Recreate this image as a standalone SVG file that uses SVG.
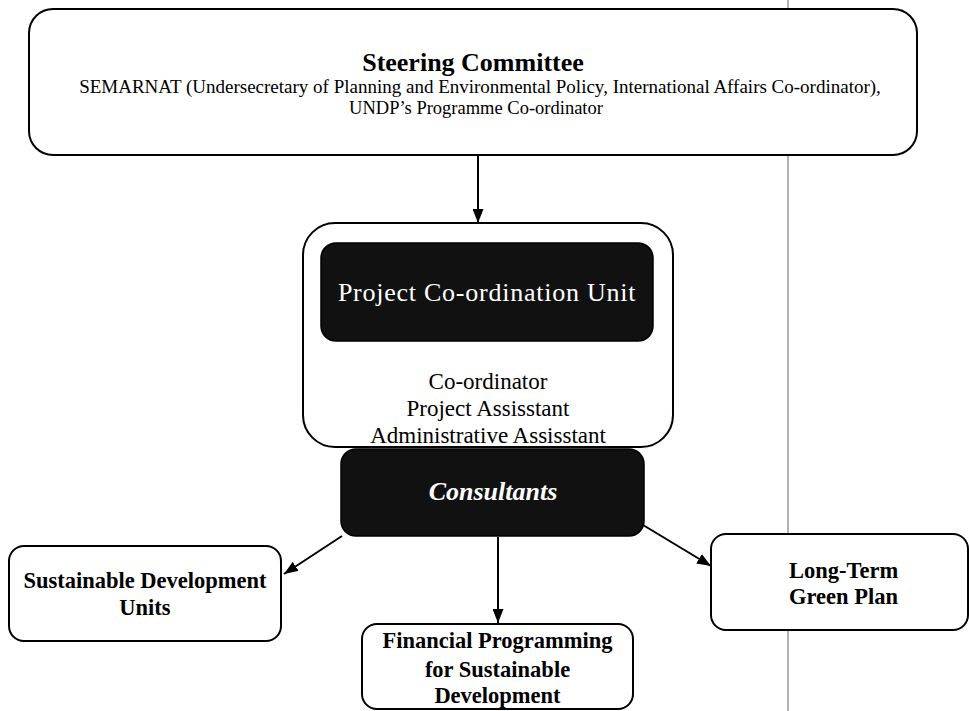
<svg xmlns="http://www.w3.org/2000/svg" width="969" height="711" viewBox="0 0 969 711">
<style>
.box{fill:#fff;stroke:#000;stroke-width:2}
.dark{fill:#111;stroke:#000;stroke-width:1.5}
.serif{font-family:"Liberation Serif","Times New Roman",serif}
.b{font-weight:bold}
.conn{stroke:#000;stroke-width:2;fill:none;marker-end:url(#ah)}
</style>
<defs>
<marker id="ah" viewBox="0 0 14 11" refX="14" refY="5.5" markerWidth="14" markerHeight="11" markerUnits="userSpaceOnUse" orient="auto">
<path d="M0,0 L14,5.5 L0,11 z" fill="#000"/>
</marker>
</defs>
<rect width="969" height="711" fill="#fff"/>
<line x1="788" y1="0" x2="788" y2="711" stroke="#666" stroke-width="1"/>
<g id="steering">
<rect class="box" x="29" y="9" width="888" height="146" rx="24"/>
<text class="serif b" x="473" y="71" font-size="26" text-anchor="middle">Steering Committee</text>
<text class="serif" x="480" y="93" font-size="19" text-anchor="middle">SEMARNAT (Undersecretary of Planning and Environmental Policy, International Affairs Co-ordinator),</text>
<text class="serif" x="476" y="114" font-size="18.5" text-anchor="middle">UNDP’s Programme Co-ordinator</text>
</g>
<g id="pcu">
<rect class="box" x="303" y="223" width="370" height="224" rx="32"/>
<rect class="dark" x="321" y="243" width="332" height="98" rx="15"/>
<text class="serif" x="487" y="301" font-size="26" letter-spacing="0.75" text-anchor="middle" fill="#fff">Project Co-ordination Unit</text>
<text class="serif" x="488" y="389" font-size="23" text-anchor="middle">Co-ordinator</text>
<text class="serif" x="488" y="416" font-size="23" text-anchor="middle">Project Assisstant</text>
<text class="serif" x="488" y="443" font-size="23" text-anchor="middle">Administrative Assisstant</text>
</g>
<g id="consultants">
<rect class="dark" x="341" y="449" width="303" height="87" rx="15"/>
<text class="serif b" x="493" y="500" font-size="26" font-style="italic" text-anchor="middle" fill="#fff">Consultants</text>
</g>
<g id="sdu">
<rect class="box" x="9" y="546" width="272" height="95" rx="15"/>
<text class="serif b" x="145" y="588" font-size="22.5" text-anchor="middle">Sustainable Development</text>
<text class="serif b" x="145" y="615" font-size="22.5" text-anchor="middle">Units</text>
</g>
<g id="fpsd">
<rect class="box" x="362" y="624" width="271" height="85" rx="15"/>
<text class="serif b" x="497.5" y="648" font-size="22.5" text-anchor="middle">Financial Programming</text>
<text class="serif b" x="497.5" y="677" font-size="22.5" text-anchor="middle">for Sustainable</text>
<text class="serif b" x="497.5" y="703" font-size="22.5" text-anchor="middle">Development</text>
</g>
<g id="ltgp">
<rect class="box" x="711" y="534" width="257" height="96" rx="15"/>
<text class="serif b" x="789" y="578" font-size="22.5">Long-Term</text>
<text class="serif b" x="789" y="604" font-size="22.5">Green Plan</text>
</g>
<g id="connectors">
<line class="conn" x1="478" y1="155" x2="478" y2="223"/>
<line class="conn" x1="342" y1="536" x2="284" y2="574"/>
<line class="conn" x1="498" y1="537" x2="498" y2="623"/>
<line class="conn" x1="643" y1="525" x2="711" y2="566"/>
</g>
</svg>
